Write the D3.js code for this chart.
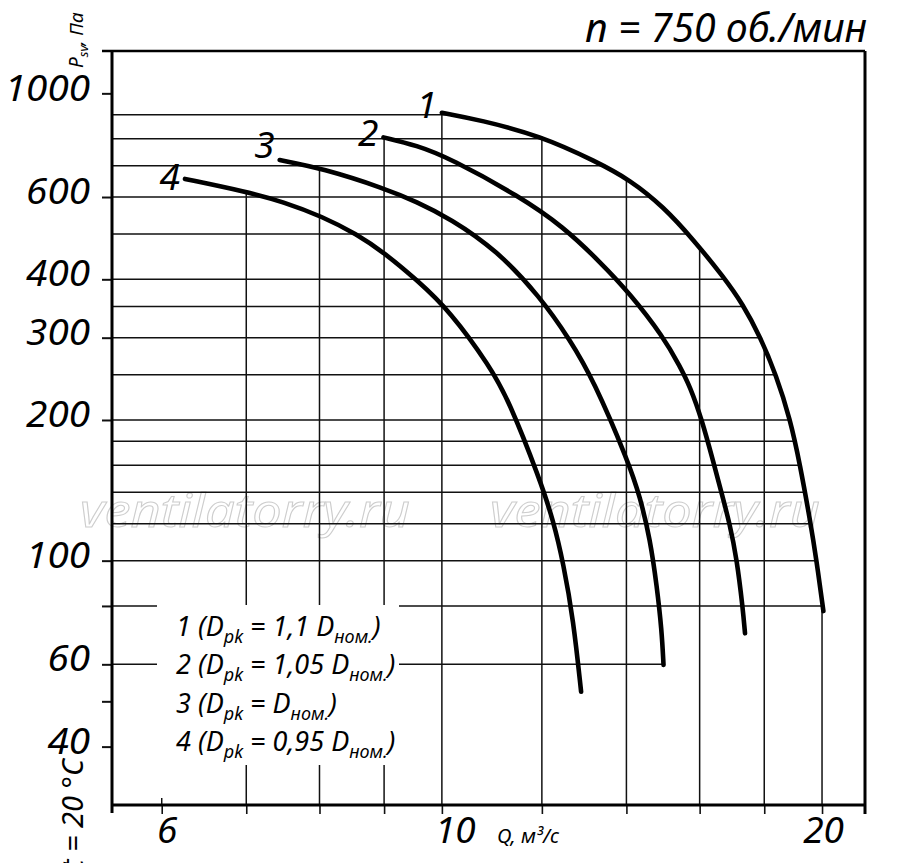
<!DOCTYPE html>
<html>
<head>
<meta charset="utf-8">
<script src="https://cdn.jsdelivr.net/npm/d3@7"></script>
<style>
  html, body { margin: 0; padding: 0; background: #fff; }
  svg { display: block; font-family: "Noto Sans", "DejaVu Sans", sans-serif; font-style: italic; }
  text { white-space: pre; }
</style>
</head>
<body>
<svg id="chart" width="900" height="863"></svg>
<script>
// data: Q in m3/s, P in Pa
var CURVE_NAMES = ["1", "2", "3", "4"];
var Q_1 = [10.0, 10.72, 11.96, 13.26, 14.09, 14.98, 15.82, 16.71, 17.31, 17.87, 18.39, 18.87, 19.21, 19.59, 19.79, 20.05];
var P_1 = [909, 877, 812, 714, 653, 572, 486, 405, 354, 301, 250, 201, 161, 120, 101, 78];
var Q_2 = [8.99, 9.55, 10.15, 11.53, 12.48, 13.34, 14.09, 14.98, 15.44, 15.72, 16.06, 16.42, 16.66, 16.90, 17.12, 17.31, 17.38];
var P_2 = [805, 774, 726, 601, 518, 436, 373, 301, 260, 236, 201, 161, 139, 120, 101, 79, 69.9];
var Q_3 = [7.44, 8.04, 9.01, 9.55, 10.15, 11.05, 11.96, 12.63, 13.18, 14.06, 14.35, 14.62, 14.80, 14.93, 14.98];
var P_3 = [720, 691, 626, 586, 540, 462, 367, 297, 244, 162, 137, 111, 88, 71.1, 59.8];
var Q_4 = [6.26, 7.0, 7.49, 8.04, 8.56, 9.01, 9.55, 10.15, 10.92, 11.29, 11.96, 12.25, 12.48, 12.71, 12.89];
var P_4 = [656, 616, 586, 545, 500, 455, 399, 342, 260, 221, 149, 122, 98.7, 74.6, 52.4];

var Y_GRID = [900, 800, 700, 600, 500, 400, 350, 300, 250, 200, 180, 160, 140, 120, 100, 80, 60];
var Y_TICKS = [1000, 600, 400, 300, 200, 100, 80, 60, 50, 40];
var Y_LABELS = [1000, 600, 400, 300, 200, 100, 60, 40];
var X_GRID = [6, 7, 8, 9, 10, 12, 14, 16, 18, 20];
var X_LABELS = [6, 10, 20];

var LEGEND_NUM = ["1", "2", "3", "4"];
var LEGEND_K = ["1,1 ", "1,05 ", "", "0,95 "];

var TITLE = "n = 750 об./мин";
var X_TITLE = "Q, м³/с";
var TEMP_NOTE = "t = 20 °C";
var WATERMARK = "ventilatorry.ru";

(function () {
  "use strict";

  var L = 112, R = 865, T = 51, B = 805;
  var x = d3.scaleLog().domain([5.48, 21.63]).range([L, R]);
  var y = d3.scaleLog().domain([30, 1232]).range([B, T]);

  var series = [[Q_1, P_1], [Q_2, P_2], [Q_3, P_3], [Q_4, P_4]].map(function (s, i) {
    return {
      name: CURVE_NAMES[i],
      pts: s[0].map(function (q, k) { return { x: x(q), y: y(s[1][k]) }; })
    };
  });

  // x of a curve at pixel row yv (curves run down-right), null if outside
  function crossX(pts, yv) {
    var tol = 1.5, n = pts.length;
    if (yv < pts[0].y - tol || yv > pts[n - 1].y + tol) return null;
    if (yv <= pts[0].y) return pts[0].x;
    if (yv >= pts[n - 1].y) return pts[n - 1].x;
    for (var i = 0; i < n - 1; i++) {
      var a = pts[i], b = pts[i + 1];
      if (yv >= a.y && yv <= b.y) return a.x + (b.x - a.x) * (yv - a.y) / (b.y - a.y);
    }
    return null;
  }
  function crossY(pts, xv) {
    var tol = 1.5, n = pts.length;
    if (xv < pts[0].x - tol || xv > pts[n - 1].x + tol) return null;
    if (xv <= pts[0].x) return pts[0].y;
    if (xv >= pts[n - 1].x) return pts[n - 1].y;
    for (var i = 0; i < n - 1; i++) {
      var a = pts[i], b = pts[i + 1];
      if (xv >= a.x && xv <= b.x) return a.y + (b.y - a.y) * (xv - a.x) / (b.x - a.x);
    }
    return null;
  }

  var svg = d3.select("#chart");

  // watermark under everything
  [80, 490].forEach(function (wx) {
    svg.append("text").attr("x", wx).attr("y", 527)
      .attr("font-size", 46).attr("fill", "none").attr("stroke", "#cdcdcd").attr("stroke-width", 1)
      .attr("textLength", 330).attr("lengthAdjust", "spacingAndGlyphs")
      .text(WATERMARK);
  });

  // grid: only under the curve envelope
  var grid = svg.append("g").attr("stroke", "#111").attr("stroke-width", 1.5);
  Y_GRID.forEach(function (v) {
    var yy = y(v), xe = null;
    series.forEach(function (s) {
      var c = crossX(s.pts, yy);
      if (c !== null && (xe === null || c > xe)) xe = c;
    });
    if (xe !== null) grid.append("line").attr("x1", L).attr("x2", xe).attr("y1", yy).attr("y2", yy);
  });
  X_GRID.forEach(function (v) {
    var xx = x(v), ye = null;
    series.forEach(function (s) {
      var c = crossY(s.pts, xx);
      if (c !== null && (ye === null || c < ye)) ye = c;
    });
    if (ye === null) ye = B - 7;   // no curve here: short stub only
    grid.append("line").attr("x1", xx).attr("x2", xx).attr("y1", ye).attr("y2", B);
  });

  // legend backdrop hides the grid
  svg.append("rect").attr("x", 157).attr("y", 605).attr("width", 242).attr("height", 160).attr("fill", "#fff");

  // axes (ticks and labels)
  var gy = svg.append("g").attr("transform", "translate(" + L + ",0)")
    .call(d3.axisLeft(y).tickValues(Y_TICKS).tickSize(10).tickSizeOuter(0).tickPadding(12)
      .tickFormat(function (d) { return Y_LABELS.indexOf(d) >= 0 ? String(d) : ""; }));
  gy.select(".domain").remove();
  gy.attr("font-family", null);
  gy.selectAll(".tick line").attr("stroke", "#111").attr("stroke-width", 2);
  gy.selectAll(".tick text").attr("font-size", 37).attr("fill", "#000").attr("dy", "0.18em")
    .filter(function (d) { return Y_LABELS.indexOf(d) >= 0; })
    .attr("textLength", function (d) { return String(d).length * 21.3; })
    .attr("lengthAdjust", "spacingAndGlyphs");

  var X_NUDGE = { 6: 5, 10: 13, 20: 1 };
  var gx = svg.append("g").attr("transform", "translate(0," + B + ")")
    .call(d3.axisBottom(x).tickValues(X_GRID).tickSize(9).tickSizeOuter(0)
      .tickFormat(function (d) { return X_LABELS.indexOf(d) >= 0 ? String(d) : ""; }));
  gx.select(".domain").remove();
  gx.attr("font-family", null);
  gx.selectAll(".tick line").attr("stroke", "#111").attr("stroke-width", 1.6);
  gx.selectAll(".tick text").attr("font-size", 37).attr("fill", "#000")
    .attr("y", 38).attr("dy", 0)
    .attr("x", function (d) { return X_NUDGE[d] || 0; });

  // frame
  var frame = svg.append("g").attr("fill", "none").attr("stroke", "#000");
  frame.append("path").attr("d", "M102," + T + "H" + R).attr("stroke-width", 2.5);
  frame.append("path").attr("d", "M" + R + "," + T + "V814").attr("stroke-width", 3);
  frame.append("path").attr("d", "M" + L + "," + T + "V813").attr("stroke-width", 3);
  frame.append("path").attr("d", "M" + L + "," + B + "H" + R).attr("stroke-width", 3);

  // curves (B-spline smooths the hand-read points)
  var line = d3.line().x(function (p) { return p.x; }).y(function (p) { return p.y; })
    .curve(d3.curveBasis);
  svg.append("g").selectAll("path").data(series).enter().append("path")
    .attr("d", function (s) { return line(s.pts); })
    .attr("fill", "none").attr("stroke", "#000").attr("stroke-width", 4.6)
    .attr("stroke-linecap", "round").attr("stroke-linejoin", "round");

  // curve numbers at the start of each curve
  var LABEL_DY = [5, 9, -2, 11];
  series.forEach(function (s, i) {
    svg.append("text").attr("x", s.pts[0].x - 5).attr("y", s.pts[0].y + LABEL_DY[i])
      .attr("text-anchor", "end").attr("font-size", 37).text(s.name);
  });

  // legend
  LEGEND_NUM.forEach(function (num, i) {
    var t = svg.append("text").attr("x", 176).attr("y", 636 + i * 38.3).attr("font-size", 27);
    t.append("tspan").text(num + " (D");
    t.append("tspan").attr("font-size", 18).attr("dy", 7).text("pk");
    t.append("tspan").attr("dy", -7).text(" = " + LEGEND_K[i] + "D");
    t.append("tspan").attr("font-size", 18).attr("dy", 7).text("ном.");
    t.append("tspan").attr("dy", -7).text(")");
  });

  // titles
  svg.append("text").attr("x", 585).attr("y", 42).attr("font-size", 40)
    .attr("textLength", 282).attr("lengthAdjust", "spacingAndGlyphs").text(TITLE);

  svg.append("text").attr("x", 497).attr("y", 843).attr("font-size", 20).text(X_TITLE);

  var yt = svg.append("text").attr("transform", "translate(83,68) rotate(-90)").attr("font-size", 19);
  yt.append("tspan").text("P");
  yt.append("tspan").attr("font-size", 13).attr("dy", 5).text("sv");
  yt.append("tspan").attr("dy", -5).text(", Па");

  svg.append("text").attr("transform", "translate(83,759) rotate(-90)")
    .attr("text-anchor", "end").attr("font-size", 29).text(TEMP_NOTE);
})();
</script>
</body>
</html>
